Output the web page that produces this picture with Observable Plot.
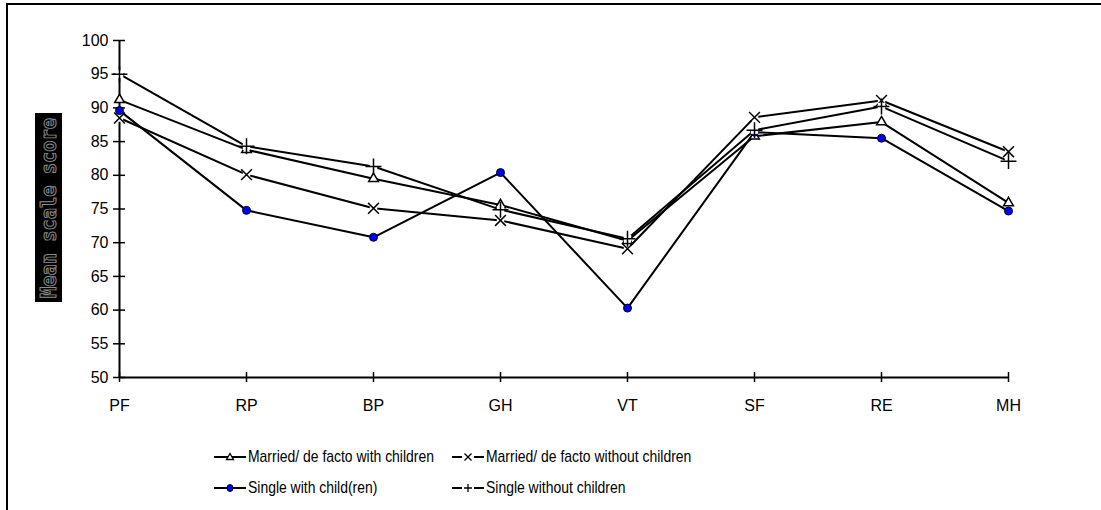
<!DOCTYPE html>
<html>
<head>
<meta charset="utf-8">
<script src="https://cdn.jsdelivr.net/npm/d3@7"></script>
<script src="https://cdn.jsdelivr.net/npm/@observablehq/plot@0.6"></script>
<style>
  html, body { margin: 0; padding: 0; background: #fff; overflow: hidden; width: 1101px; height: 510px; }
  #page { position: relative; width: 1101px; height: 510px; overflow: hidden; background: #fff; }
  .frame-left { position: absolute; left: 6px; top: 3px; width: 2px; height: 507px; background: #000; }
  .frame-top { position: absolute; left: 6px; top: 3px; width: 1095px; height: 2px; background: #000; }
  #chart { position: absolute; left: 0; top: 0; }
  .legend { position: absolute; font-family: "Liberation Sans", Arial, sans-serif;
            font-size: 17px; color: #000; white-space: nowrap; display: flex; align-items: center; }
  .legend span { display: inline-block; transform: scaleX(0.82); transform-origin: left center; }
</style>
</head>
<body>
<div id="page">
  <div class="frame-left"></div>
  <div class="frame-top"></div>
  <div id="chart"></div>
</div>
<script>
// SF-36 scale scores by household type
const categories = ["PF", "RP", "BP", "GH", "VT", "SF", "RE", "MH"];
const marriedWithChildren    = [91.2, 83.8, 79.5, 75.6, 70.3, 85.8, 87.9, 75.9];
const marriedWithoutChildren = [88.5, 80.1, 75.1, 73.3, 69.1, 88.6, 91.1, 83.5];
const singleWithChildren     = [89.6, 74.8, 70.8, 80.4, 60.3, 86.4, 85.5, 74.7];
const singleWithoutChildren  = [95.0, 84.3, 81.3, 74.9, 70.6, 86.7, 90.2, 82.1];
const seriesNames = [
  "Married/ de facto with children",
  "Married/ de facto without children",
  "Single with child(ren)",
  "Single without children"
];
const yTicks = [50, 55, 60, 65, 70, 75, 80, 85, 90, 95, 100];

const seriesValues = [marriedWithChildren, marriedWithoutChildren, singleWithChildren, singleWithoutChildren];
const rows = seriesValues.flatMap((vals, i) =>
  vals.map((v, j) => ({series: seriesNames[i], cat: categories[j], value: v})));
const bySeries = name => rows.filter(d => d.series === name);
const firstCat = categories[0];
const lastCat = categories[categories.length - 1];

const chart = Plot.plot({
  width: 1101,
  height: 440,
  marginLeft: 119,
  marginRight: 93,
  marginTop: 40,
  marginBottom: 63,
  style: {fontFamily: "'Liberation Sans', Arial, sans-serif", fontSize: "16px", color: "#000", background: "transparent", overflow: "visible"},
  x: {type: "point", domain: categories, padding: 0},
  y: {domain: [50, 100]},
  marks: [
    // axis lines
    Plot.ruleX([firstCat], {y1: 50, y2: 100, stroke: "#000", strokeWidth: 2}),
    Plot.ruleY([50], {x1: () => firstCat, x2: () => lastCat, stroke: "#000", strokeWidth: 2}),
    // tick marks crossing the axes
    Plot.ruleY(yTicks, {x1: () => firstCat, x2: () => firstCat, insetLeft: -6, insetRight: -6, stroke: "#000", strokeWidth: 1.5}),
    Plot.ruleX(categories, {y1: 50, y2: 50, insetTop: -5, insetBottom: -5, stroke: "#000", strokeWidth: 1.5}),
    // tick labels
    Plot.axisY({ticks: yTicks, tickSize: 0, tickPadding: 11, label: null}),
    Plot.axisX({tickSize: 0, tickPadding: 22, label: null}),
    // series lines
    Plot.line(rows, {x: "cat", y: "value", z: "series", stroke: "#000", strokeWidth: 2}),
    // markers
    Plot.dot(bySeries(seriesNames[0]), {x: "cat", y: "value", symbol: "triangle", r: 3.6, fill: "#fff", stroke: "#000", strokeWidth: 1.5}),
    Plot.dot(bySeries(seriesNames[1]), {x: "cat", y: "value", symbol: "square", r: 4.2, fill: "#fff"}),
    Plot.dot(bySeries(seriesNames[1]), {x: "cat", y: "value", symbol: "times", r: 5, stroke: "#000", strokeWidth: 1.5}),
    Plot.dot(bySeries(seriesNames[2]), {x: "cat", y: "value", r: 4, fill: "#0000ff", stroke: "#000", strokeWidth: 1}),
    Plot.dot(bySeries(seriesNames[3]), {x: "cat", y: "value", symbol: "square", r: 4.2, fill: "#fff"}),
    Plot.dot(bySeries(seriesNames[3]), {x: "cat", y: "value", symbol: "plus", r: 5.2, stroke: "#000", strokeWidth: 1.5})
  ]
});

// y-axis title in a dark box, hollow grey lettering
const svg = d3.select(chart);
svg.append("rect").attr("x", 35).attr("y", 113).attr("width", 27).attr("height", 189).attr("fill", "#000");
svg.append("text")
  .attr("transform", "translate(49,208) rotate(-90)")
  .attr("text-anchor", "middle").attr("dominant-baseline", "central")
  .attr("font-family", "'DejaVu Sans Mono', monospace").attr("font-weight", "bold").attr("font-size", 21)
  .attr("textLength", 180).attr("lengthAdjust", "spacingAndGlyphs")
  .attr("fill", "none").attr("stroke", "#8c8c8c").attr("stroke-width", 1)
  .text("Mean scale score");

document.getElementById("chart").appendChild(chart);

// legend
const legendItems = [
  {name: seriesNames[0], symbol: "triangle", x: 214, y: 457},
  {name: seriesNames[1], symbol: "times", x: 452, y: 457},
  {name: seriesNames[2], symbol: "circle", x: 214, y: 488},
  {name: seriesNames[3], symbol: "plus", x: 452, y: 488}
];
const page = document.getElementById("page");
for (const item of legendItems) {
  const div = document.createElement("div");
  div.className = "legend";
  div.style.left = item.x + "px";
  div.style.top = (item.y - 11) + "px";
  div.style.height = "22px";
  const s = d3.create("svg").attr("width", 32).attr("height", 14).style("margin-right", "2px");
  s.append("line").attr("x1", 0).attr("x2", 32).attr("y1", 7).attr("y2", 7).attr("stroke", "#000").attr("stroke-width", 2);
  if (item.symbol === "triangle") {
    s.append("path").attr("d", "M16,3.5L19.5,9.5L12.5,9.5Z").attr("fill", "#fff").attr("stroke", "#000").attr("stroke-width", 1.3);
  } else if (item.symbol === "circle") {
    s.append("ellipse").attr("cx", 16).attr("cy", 7).attr("rx", 3).attr("ry", 3.5).attr("fill", "#0000ff").attr("stroke", "#000").attr("stroke-width", 1);
  } else {
    s.append("rect").attr("x", 10).attr("y", 1).attr("width", 12).attr("height", 12).attr("fill", "#fff");
    const p = item.symbol === "times" ? "M12.5,3.5L19.5,10.5M19.5,3.5L12.5,10.5" : "M12,7H20M16,3V11";
    s.append("path").attr("d", p).attr("stroke", "#000").attr("stroke-width", 1.3).attr("fill", "none");
  }
  div.appendChild(s.node());
  const span = document.createElement("span");
  span.textContent = item.name;
  div.appendChild(span);
  page.appendChild(div);
}
</script>
</body>
</html>
